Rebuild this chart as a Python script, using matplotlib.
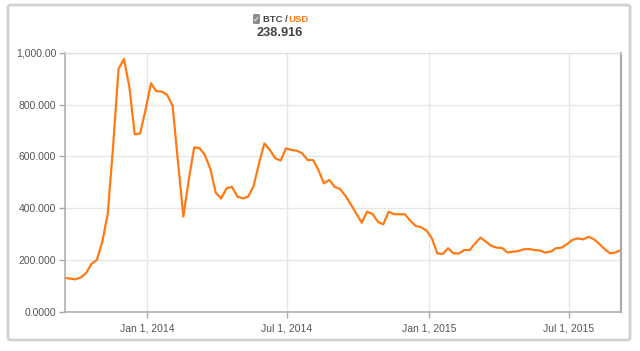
import numpy as np
import pandas as pd
import matplotlib
matplotlib.use("Agg")
import matplotlib.pyplot as plt
import matplotlib.dates as mdates
from matplotlib.patches import FancyBboxPatch

plt.rcParams['font.family'] = ['Liberation Sans', 'DejaVu Sans']

# Weekly BTC/USD price
start_date = "2013-09-16"
precio = [132, 129, 126, 133, 150, 186, 201, 271, 378, 640,
          937, 976, 869, 685, 689, 780, 882, 852, 850, 837,
          796, 580, 368, 510, 635, 632, 605, 551, 460, 438,
          477, 483, 445, 438, 445, 486, 573, 650, 625, 593,
          584, 631, 625, 622, 612, 586, 586, 548, 496, 509,
          483, 474, 448, 415, 380, 344, 387, 378, 348, 338,
          387, 377, 377, 377, 352, 332, 327, 314, 284, 226,
          224, 246, 226, 226, 239, 239, 265, 287, 271, 255,
          248, 247, 229, 233, 235, 242, 243, 239, 237, 229,
          233, 246, 248, 262, 278, 284, 280, 290, 280, 262,
          242, 226, 230, 239]
fechas = pd.date_range(start_date, periods=len(precio), freq="7D")

y_ticks = [0, 200, 400, 600, 800, 1000]
y_labels = ["0.0000", "200.000", "400.000", "600.000", "800.000", "1,000.00"]
x_ticks = ["2014-01-01", "2014-07-01", "2015-01-01", "2015-07-01"]
x_labels = ["Jan 1, 2014", "Jul 1, 2014", "Jan 1, 2015", "Jul 1, 2015"]
ultimo = "238.916"

naranja = "#ff7a14"
gris_txt = "#555555"

fig = plt.figure(figsize=(6.4, 3.51), dpi=100)
fig.patch.set_facecolor("white")

# tarjeta con borde
card = FancyBboxPatch((8 / 640, 11 / 351), 622 / 640, 335 / 351,
                      boxstyle="round,pad=0,rounding_size=0.006",
                      transform=fig.transFigure, facecolor="white",
                      edgecolor="#d2d2d2", linewidth=2.0, zorder=-5)
fig.patches.append(card)

ax = fig.add_axes([64.5 / 640, 39 / 351, 556.5 / 640, 259.3 / 351])
ax.set_zorder(2)
ax.plot(fechas, precio, color=naranja, linewidth=1.6, solid_joinstyle="round")

ax.set_xlim(pd.Timestamp(start_date), fechas[-1])
ax.set_ylim(0, 1000)
ax.set_yticks(y_ticks)
ax.set_yticklabels(y_labels)
ax.set_xticks([pd.Timestamp(d) for d in x_ticks])
ax.set_xticklabels(x_labels)

ax.grid(True, color="#e6e6e6", linewidth=1.0)
ax.set_axisbelow(True)
ax.tick_params(axis="both", colors="#aaaaaa", labelcolor=gris_txt,
               labelsize=7.5, length=4, width=1)
ax.tick_params(axis="x", pad=4)
ax.tick_params(axis="y", pad=2)
for lado in ["left", "bottom"]:
    ax.spines[lado].set_color("#b0b0b0")
    ax.spines[lado].set_linewidth(1.2)
ax.spines["top"].set_color("#dddddd")
ax.spines["right"].set_color("#aaaaaa")
ax.spines["right"].set_linewidth(1.6)

# cabecera
caja = FancyBboxPatch((253 / 640, 327 / 351), 7 / 640, 10 / 351,
                      boxstyle="round,pad=0,rounding_size=0.003",
                      transform=fig.transFigure, facecolor="#8c8c8c",
                      edgecolor="none", zorder=3)
fig.patches.append(caja)
fig.text(256.5 / 640, 332 / 351, "\u2713", color="white", fontsize=6,
         ha="center", va="center", family=["DejaVu Sans"], zorder=4)
fig.text(263 / 640, 332 / 351, "BTC /", color="#444444", fontsize=6.8,
         fontweight="bold", ha="left", va="center")
fig.text(288 / 640, 332 / 351, "USD", color=naranja, fontsize=6.8,
         fontweight="bold", ha="left", va="center")
fig.text(279.5 / 640, 318 / 351, ultimo, color="#444444", fontsize=9.2,
         fontweight="bold", ha="center", va="center")

fig.savefig("out.png", dpi=100)
